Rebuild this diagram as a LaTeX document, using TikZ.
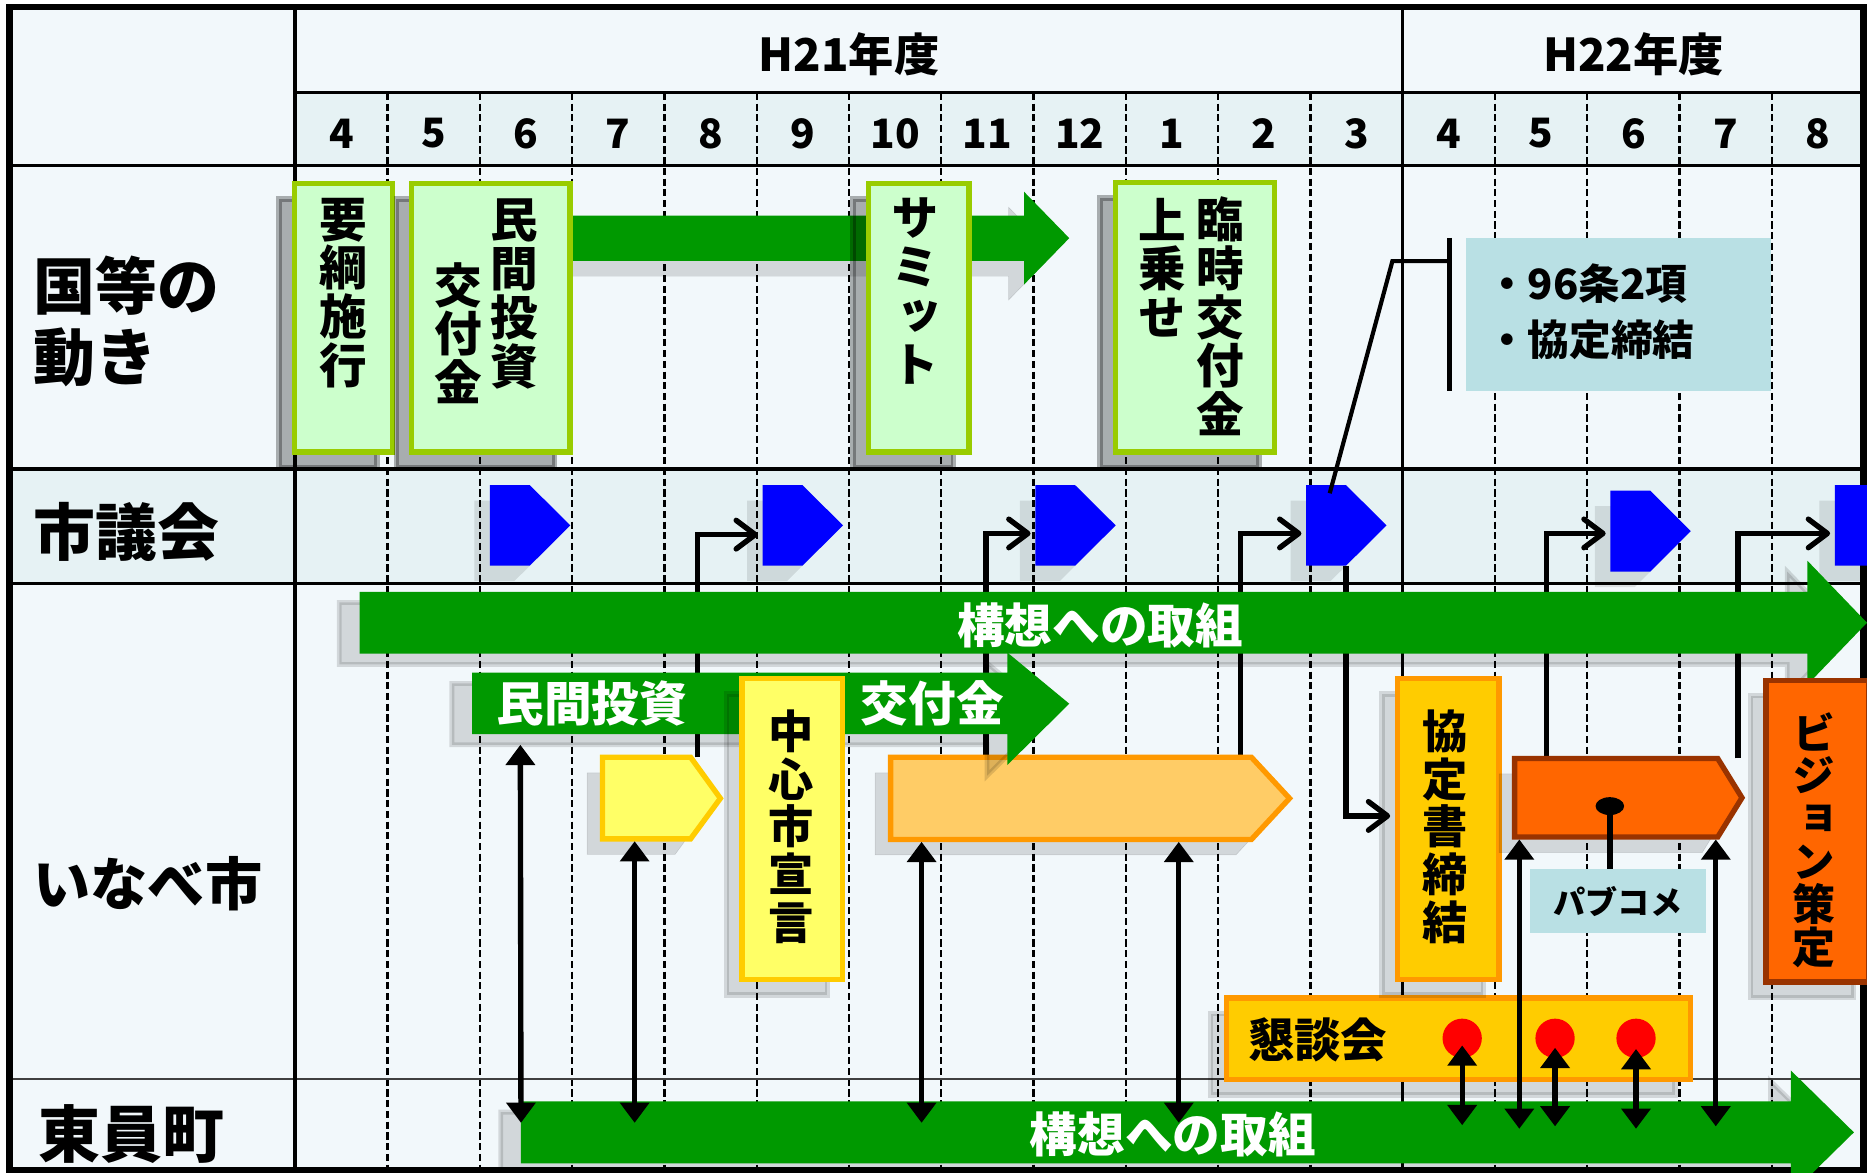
\documentclass[tikz,border=0pt]{standalone}
\usepackage{fontspec}
\setmainfont{Noto Sans CJK JP}
\newfontfamily\tate{Noto Sans CJK JP}[RawFeature=+vert]
\usetikzlibrary{arrows.meta, shapes.geometric, shadows}
\definecolor{fondo}{RGB}{242,248,251}
\definecolor{franja}{RGB}{230,242,244}
\definecolor{verde}{RGB}{0,153,0}
\definecolor{verdeclaro}{RGB}{204,255,204}
\definecolor{lima}{RGB}{153,204,0}
\definecolor{amarillo}{RGB}{255,255,102}
\definecolor{oro}{RGB}{255,204,0}
\definecolor{naranjaclaro}{RGB}{255,204,102}
\definecolor{naranja}{RGB}{255,153,0}
\definecolor{rojizo}{RGB}{255,102,0}
\definecolor{marron}{RGB}{153,51,0}
\definecolor{celeste}{RGB}{185,224,228}
\definecolor{azul}{RGB}{0,0,255}
\definecolor{rojo}{RGB}{255,0,0}
\pgfdeclarelayer{base}
\pgfdeclarelayer{lineas}
\pgfsetlayers{base,lineas,main}
\tikzset{
    rejilla/.style={line width=2pt, dash pattern=on 6pt off 3pt},
    mes/.style={font=\bfseries\fontsize{34}{36}\selectfont, inner sep=0},
    anio/.style={font=\bfseries\fontsize{38}{40}\selectfont, inner sep=0},
    etiqueta/.style={font=\bfseries\fontsize{52}{60}\selectfont, align=left, anchor=west, inner sep=0},
    vertical/.style={font=\tate\bfseries\fontsize{40}{41}\selectfont, align=center, anchor=north, inner sep=0},
    verticalb/.style={vertical, font=\tate\bfseries\fontsize{38}{40}\selectfont},
    enflecha/.style={text=white, font=\bfseries\fontsize{40}{42}\selectfont, inner sep=0},
    textoneg/.style={font=\bfseries\fontsize{39}{40}\selectfont, inner sep=0},
    textonota/.style={font=\bfseries\fontsize{35}{47}\selectfont, align=left, anchor=west, inner sep=0},
    sombra/.style={drop shadow={shadow xshift=-13pt, shadow yshift=-13pt, fill=black, draw=black, opacity=#1}},
    sombra/.default=0.13,
    sombraflecha/.style={drop shadow={shadow xshift=-17pt, shadow yshift=-9pt, fill=black, draw=black, line width=4pt, opacity=0.13}},
    sombraazul/.style={drop shadow={shadow xshift=-13pt, shadow yshift=-13pt, fill=black, opacity=0.1}},
    cajaverde/.style={draw=lima, fill=verdeclaro, line width=4.5pt, inner sep=0, sombra=0.3},
    cajaamarilla/.style={draw=oro, fill=amarillo, line width=4.5pt, inner sep=0, sombra},
    cajanaranja/.style={draw=naranja, fill=naranjaclaro, line width=4.5pt, inner sep=0, sombra},
    cajaoro/.style={draw=naranja, fill=oro, line width=4.5pt, inner sep=0, sombra},
    cajaroja/.style={draw=marron, fill=rojizo, line width=4.5pt, inner sep=0, sombra},
    notacaja/.style={fill=celeste, inner sep=0},
    puntorojo/.style={circle, fill=rojo, minimum size=33, inner sep=0},
    codo/.style={line width=4.5pt, arrows={-Straight Barb[length=16pt, width=24pt, round]}, shorten >=4pt},
    doble/.style={line width=4.5pt, arrows={Triangle[width=24pt, length=17pt]-Triangle[width=24pt, length=17pt]}}
}
\begin{document}
\begin{tikzpicture}[x=1pt, y=-1pt]
    \useasboundingbox (0,0) rectangle (1568,985);
    \begin{pgfonlayer}{base}
        % Fondo de la tabla
        \fill[white] (0,0) rectangle (1568,985);
        \fill[fondo] (8,6) rectangle (1565,983);
        \fill[franja] (248,78) rectangle (1565,139);
        \fill[franja] (8,394) rectangle (1565,490);

        % Rejilla de meses
        \foreach \i in {1,...,11,13,14,15,16}
            \draw[rejilla] ({248+77.5*\i},78) -- ({248+77.5*\i},983);
        \draw[line width=2pt] (1178,6) -- (1178,983);
        \draw[line width=2.5pt] (248,78) -- (1565,78);
        \draw[line width=3pt] (8,139) -- (1565,139);
        \draw[line width=3pt] (8,394) -- (1565,394);
        \draw[line width=3pt] (8,490) -- (1565,490);
        \draw[line width=2pt, black!75] (8,906) -- (1565,906);
        \draw[line width=3.5pt] (248,6) -- (248,983);
        \draw[line width=5.5pt] (8,6) rectangle (1565,983);

        % Cabecera
        \node[anio] (h21) at (713,46) {H21年度};
        \node[anio] (h22) at (1372,46) {H22年度};
        \foreach \m [count=\i from 0] in {4,5,6,7,8,9,10,11,12,1,2,3,4,5,6,7,8}
            \node[mes] (mes\i) at ({286.75+77.5*\i},112) {\m};

        % Filas
        \node[etiqueta] (kuni) at (28,270) {国等の\\動き};
        \node[etiqueta] (gikai) at (28,447) {市議会};
        \node[etiqueta, font=\bfseries\fontsize{48}{50}\selectfont] (inabe) at (28,742) {いなべ市};
        \node[etiqueta] (toin) at (32,952) {東員町};
    \end{pgfonlayer}

    % Movimientos del Estado
    \fill[verde, sombra] (470,181) -- (860,181) -- (860,161) -- (898,200) -- (860,239) -- (860,219) -- (470,219) -- cycle;
    \node[cajaverde, minimum width=82.5, minimum height=225.5] (yoko) at (288.5,267) {};
    \node[vertical] (yokot) at (288,166) {要\\綱\\施\\行};
    \node[cajaverde, minimum width=133, minimum height=225.5] (minkan) at (412.25,267) {};
    \node[vertical] (minkant) at (432,167) {民\\間\\投\\資};
    \node[vertical] (koufut) at (385,220) {交\\付\\金};
    \node[cajaverde, minimum width=84.5, minimum height=225.5] (samitto) at (771.5,267) {};
    \node[vertical] (samittot) at (769,166) {サ\\ミ\\ッ\\ト};
    \node[cajaverde, minimum width=133.5, minimum height=226.5] (rinji) at (1003.6,266.5) {};
    \node[vertical] (rinjit) at (1025,165) {臨\\時\\交\\付\\金};
    \node[vertical] (uwanoset) at (976,166) {上\\乗\\せ};

    % Nota
    \node[notacaja, minimum width=256, minimum height=128] (nota) at (1359,264) {};
    \node[textonota] (notat) at (1248,262) {・96条2項\\・協定締結};
    \draw[line width=3.5pt] ([xshift=-13.4pt]nota.north west) -- ([xshift=-13.4pt]nota.south west);
    \coordinate (notapie) at ([xshift=-13.4pt, yshift=-19.5pt]nota.north west);

    % Sesiones del consejo
    \fill[azul, sombraazul] (411.5,407.5) -- (445,407.5) -- (479,441.25) -- (445,475) -- (411.5,475) -- cycle;
    \fill[azul, sombraazul] (640.5,407.5) -- (674,407.5) -- (708,441.25) -- (674,475) -- (640.5,475) -- (640.5,449) coordinate (gik2) -- cycle;
    \fill[azul, sombraazul] (869.5,407.5) -- (903,407.5) -- (937,441.25) -- (903,475) -- (869.5,475) -- (869.5,448) coordinate (gik3) -- cycle;
    \fill[azul, sombraazul] (1097,407.5) -- (1118.6,407.5) coordinate (gik4n) -- (1130.5,407.5) -- (1164.5,441.25) -- (1130.5,475) coordinate (gik4s) -- (1097,475) -- (1097,448) coordinate (gik4) -- cycle;
    \fill[azul, sombraazul] (1352.5,412) -- (1386,412) -- (1420,446) -- (1386,480) -- (1352.5,480) -- (1352.5,448) coordinate (gik5) -- cycle;
    \fill[azul, sombraazul] (1541,407.5) -- (1574.5,407.5) -- (1608.5,441.25) -- (1574.5,475) -- (1541,475) -- (1541,448) coordinate (gik6) -- cycle;
    \draw[line width=3.5pt, shorten <=-7pt] (gik4n) -- ([xshift=-48pt]notapie) -- (notapie);

    % Inabe
    \fill[verde, sombraflecha] (302,497) -- (1518,497) -- (1518,471) -- (1568,523) -- (1518,575) -- (1518,549) -- (302,549) -- cycle;
    \node[enflecha] (kousou1) at (924,525) {構想への取組};
    \draw[cajaamarilla] (506,636) -- (580,636) coordinate (kiiro1) -- (605,670.5) -- (580,704.5) -- (533,704.5) coordinate (kiiro2) -- (506,704.5) -- cycle;
    \draw[cajanaranja] (748,636) -- (828,636) coordinate (daidai1) -- (1042,636) coordinate (daidai2) -- (1051,636) -- (1083,670.5) -- (1051,705) -- (990,705) coordinate (daidai4) -- (774,705) coordinate (daidai3) -- (748,705) -- cycle;
    \fill[verde, sombraflecha] (396.5,565) -- (846,565) -- (846,548) -- (898,591) -- (846,642.5) -- (846,616.5) -- (437,616.5) coordinate (minkan1) -- (396.5,616.5) -- cycle;
    \node[enflecha] (minkan2) at (497,591) {民間投資};
    \node[enflecha] (koufu2) at (783,591) {交付金};
    \node[cajaamarilla, minimum width=84.5, minimum height=253] (chushin) at (665.5,696.25) {};
    \node[verticalb] (chushint) at (664,596) {中\\心\\市\\宣\\言};
    \node[cajaoro, minimum width=390, minimum height=68.5] (konwa) at (1224.8,872.5) {};
    \node[textoneg, anchor=west] (konwat) at (1048,873) {懇談会};
    \node[puntorojo] (kon1) at (1228,872) {};
    \node[puntorojo] (kon2) at (1306,872) {};
    \node[puntorojo] (kon3) at (1374,872) {};
    \node[cajaoro, minimum width=85, minimum height=253] (kyotei) at (1216.3,696.25) {};
    \node[verticalb] (kyoteit) at (1214,596) {協\\定\\書\\締\\結};
    \draw[cajaroja] (1272,637) -- (1298.6,637) coordinate (roja1) -- (1442.6,637) -- (1463,670) -- (1442.6,703) -- (1441,703) coordinate (roja4) -- (1276,703) coordinate (roja3) -- (1272,703) -- cycle;
    \node[fill=black, ellipse, minimum width=24, minimum height=15, inner sep=0] (pdot) at (1352,677) {};
    \node[notacaja, minimum width=147.6, minimum height=53.6, font=\bfseries\fontsize{27}{30}\selectfont] (pabu) at (1358.8,756.8) {パブコメ};
    \draw[line width=4.5pt] (pabu.north -| pdot) -- (pdot);
    \node[cajaroja, minimum width=86.5, minimum height=253.5] (bijon) at (1526.5,698) {};
    \node[vertical, font=\tate\bfseries\fontsize{36}{36}\selectfont] (bijont) at (1523,598) {ビ\\ジ\\ョ\\ン\\策\\定};

    % Toin
    \fill[verde, sombraflecha] (437.5,925) coordinate (toin1) -- (533,925) coordinate (toin2) -- (774,925) coordinate (toin3) -- (990,925) coordinate (toin4) -- (1228,925) coordinate (toin5) -- (1276,925) coordinate (toin6) -- (1306,925) coordinate (toin7) -- (1374,925) coordinate (toin8) -- (1441,925) coordinate (toin9) -- (1504,925) -- (1504,899) -- (1557,951) -- (1504,1003) -- (1504,977) -- (437.5,977) -- cycle;
    \node[enflecha] (kousou2) at (985,953) {構想への取組};

    % Conexiones al consejo
    \begin{pgfonlayer}{lineas}
        \draw[codo] ([xshift=6pt]kiiro1) |- (gik2);
        \draw[codo] (daidai1) |- (gik3);
        \draw[codo] (daidai2) |- (gik4);
        \draw[codo] (gik4s) |- ([yshift=11pt]kyotei.west);
        \draw[codo] (roja1) |- (gik5);
        \draw[codo] ([xshift=161pt]roja1) |- (gik6);
    \end{pgfonlayer}

    % Coordinacion entre Inabe y Toin
    \draw[doble, shorten <=9pt, shorten >=-18pt] (minkan1) -- (toin1);
    \draw[doble, shorten <=2pt, shorten >=-18pt] (kiiro2) -- (toin2);
    \draw[doble, shorten <=2pt, shorten >=-18pt] (daidai3) -- (toin3);
    \draw[doble, shorten <=2pt, shorten >=-18pt] (daidai4) -- (toin4);
    \draw[doble, shorten <=6pt, shorten >=-20pt] (kon1.center) -- (toin5);
    \draw[doble, shorten <=2pt, shorten >=-23pt] (roja3) -- (toin6);
    \draw[doble, shorten <=8pt, shorten >=-21pt] (kon2.center) -- (toin7);
    \draw[doble, shorten <=9pt, shorten >=-23pt] (kon3.center) -- (toin8);
    \draw[doble, shorten <=2pt, shorten >=-21pt] (roja4) -- (toin9);
\end{tikzpicture}
\end{document}
